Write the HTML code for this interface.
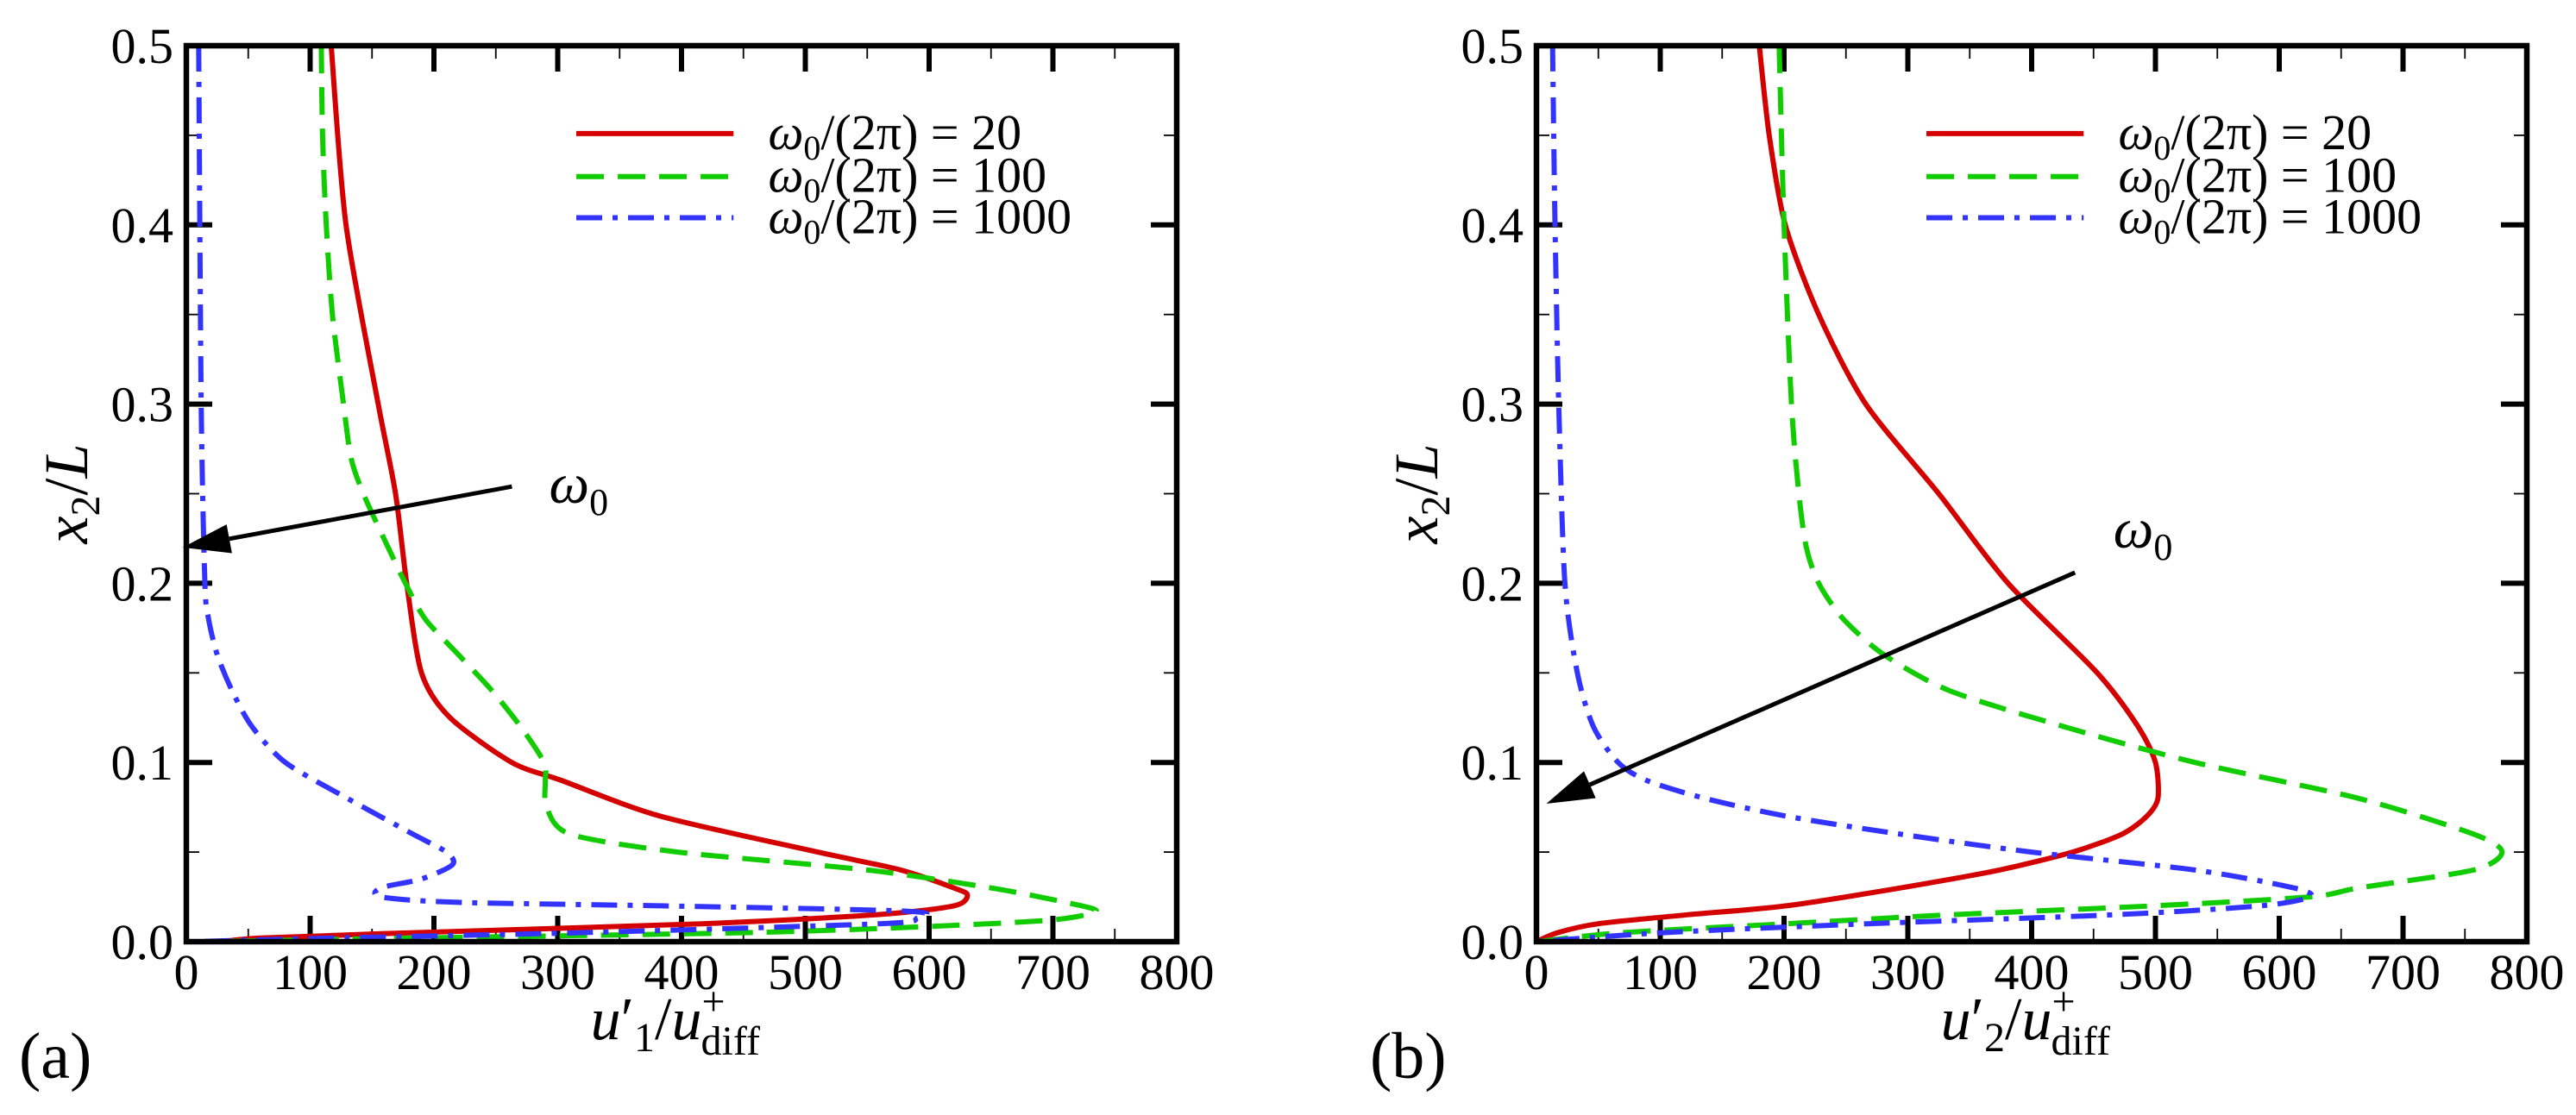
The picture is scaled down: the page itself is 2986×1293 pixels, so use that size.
<!DOCTYPE html>
<html><head><meta charset="utf-8"><style>
html,body{margin:0;padding:0;background:#fff;}
svg{display:block;}
</style></head><body>
<svg id="fig" width="2986" height="1293" viewBox="0 0 2986 1293"></svg>
<script>
// ---- data (x = velocity fluctuation, y = x2/L) ----
const yA_red   = [0.5,0.4,0.3,0.25,0.2,0.15,0.125,0.1,0.09,0.07,0.05,0.04,0.03,0.026,0.02,0.015,0.01,0.005,0.002,0];
const xA_red   = [117,129,155,169,178,190,213,263,303,383,510,577,620,631,620,557,417,183,60,30];
const yA_green = [0.5,0.45,0.4,0.35,0.3,0.27,0.25,0.22,0.2,0.18,0.16,0.14,0.12,0.1,0.09,0.075,0.06,0.05,0.04,0.03,0.022,0.017,0.012,0.008,0.005,0.002,0];
const xA_green = [109,110,113,118,127,133,143,163,177,193,220,247,270,289,290,291,310,397,550,650,710,735,697,583,450,183,17];
const yA_blue  = [0.5,0.3,0.2,0.18,0.16,0.14,0.12,0.1,0.08,0.06,0.05,0.043,0.035,0.03,0.025,0.022,0.02,0.017,0.013,0.01,0.005,0.002,0];
const xA_blue  = [10,12,15,18,25,37,53,80,130,183,210,215,190,157,157,217,383,583,590,560,317,117,5];

const yB_red   = [0.5,0.45,0.4,0.35,0.3,0.25,0.2,0.15,0.12,0.1,0.08,0.07,0.06,0.05,0.04,0.03,0.02,0.015,0.01,0.005,0];
const xB_red   = [180,188,201,228,266,325,381,453,486,500,502,493,473,433,374,294,202,122,50,17,0];
const yB_green = [0.5,0.4,0.3,0.25,0.22,0.2,0.18,0.16,0.14,0.12,0.1,0.08,0.06,0.05,0.04,0.03,0.025,0.02,0.015,0.01,0.005,0];
const xB_green = [196,200,206,212,218,228,248,281,334,426,532,664,757,780,757,664,625,499,334,202,69,0];
const yB_blue  = [0.5,0.4,0.3,0.2,0.15,0.12,0.1,0.09,0.08,0.07,0.06,0.05,0.04,0.03,0.025,0.02,0.015,0.01,0.005,0];
const xB_blue  = [13,15,18,23,33,46,66,89,136,202,294,400,532,612,625,585,466,268,102,0];

const xTicks = [0,100,200,300,400,500,600,700,800];
const yTicks = [0.0,0.1,0.2,0.3,0.4,0.5];
const legendLabels = ["20","100","1000"];

const NS="http://www.w3.org/2000/svg";
const svg=document.getElementById('fig');
const FONT="font-family:'Liberation Serif','DejaVu Serif',serif";
function el(tag,attrs,parent){const e=document.createElementNS(NS,tag);for(const k in attrs)e.setAttribute(k,attrs[k]);if(tag==='text')e.setAttribute('style',FONT);(parent||svg).appendChild(e);return e;}

const T=53,B=1092;
const colors=["#d40000","#11cc00","#3333ff"];
const dashes=["none","32 16","30 12 6 12"];

function smoothPath(P){
  let d='M'+P[0][0].toFixed(1)+','+P[0][1].toFixed(1);
  for(let i=0;i<P.length-1;i++){
    const p0=P[i-1]||P[i],p1=P[i],p2=P[i+1],p3=P[i+2]||P[i+1];
    const k=1/6*0.8;
    const c1=[p1[0]+(p2[0]-p0[0])*k,p1[1]+(p2[1]-p0[1])*k];
    const c2=[p2[0]-(p3[0]-p1[0])*k,p2[1]-(p3[1]-p1[1])*k];
    d+=' C'+c1.map(v=>v.toFixed(1)).join(',')+' '+c2.map(v=>v.toFixed(1)).join(',')+' '+p2[0].toFixed(1)+','+p2[1].toFixed(1);
  }
  return d;
}

function panel(L,name,series,arrow,sub,plabel,plx){
  const R=L+1148;
  const sx=v=>L+(v/800)*(R-L);
  const sy=v=>B-(v/0.5)*(B-T);
  const g=el('g',{});
  
  
  for(let v=0;v<=800;v+=50){
    const major=v%100===0, len=major?30:15, w=major?6:1.8;
    const t1=el('line',{x1:sx(v),x2:sx(v),y1:B,y2:B-len,stroke:'#000','stroke-width':w},g);
    
    el('line',{x1:sx(v),x2:sx(v),y1:T,y2:T+len,stroke:'#000','stroke-width':w},g);
  }
  for(let i=0;i<=10;i++){
    const v=i*0.05, major=i%2===0, len=major?30:15, w=major?6:1.8;
    const t1=el('line',{x1:L,x2:L+len,y1:sy(v),y2:sy(v),stroke:'#000','stroke-width':w},g);
    
    el('line',{x1:R,x2:R-len,y1:sy(v),y2:sy(v),stroke:'#000','stroke-width':w},g);
  }
  xTicks.forEach(v=>{const t=el('text',{x:sx(v),y:B+55,'font-size':58,'text-anchor':'middle'},g);t.textContent=v;
    });
  yTicks.forEach(v=>{const t=el('text',{x:L-15,y:sy(v)+20,'font-size':58,'text-anchor':'end'},g);t.textContent=v.toFixed(1);
    });
  series.forEach((s,i)=>{
    const P=s[0].map((x,j)=>[sx(x),sy(s[1][j])]);
    const p=el('path',{d:smoothPath(P),fill:'none',stroke:colors[i],'stroke-width':6,'stroke-linejoin':'round','stroke-dasharray':dashes[i]},g);
    
    
  });
  [0.451,0.427,0.404].forEach((yv,i)=>{
    const ln=el('line',{x1:sx(315),x2:sx(442),y1:sy(yv),y2:sy(yv),stroke:colors[i],'stroke-width':6,'stroke-dasharray':dashes[i]},g);
    
    const t=el('text',{x:sx(470),y:sy(yv)+18,'font-size':58},g);
    
    t.innerHTML='<tspan font-style="italic">ω</tspan><tspan font-size="40" dy="12">0</tspan><tspan dy="-12">/(2π) = '+legendLabels[i]+'</tspan>';
  });
  const ax1=sx(arrow[0]),ay1=sy(arrow[1]),ax2=sx(arrow[2]),ay2=sy(arrow[3]);
  const ang=Math.atan2(ay2-ay1,ax2-ax1),hl=55,hw=17;
  const bx=ax2-hl*Math.cos(ang),by=ay2-hl*Math.sin(ang);
  const ar=el('g',{},g);
  el('line',{x1:ax1,y1:ay1,x2:bx,y2:by,stroke:'#000','stroke-width':5},ar);
  el('polygon',{points:`${ax2},${ay2} ${bx+hw*Math.sin(ang)},${by-hw*Math.cos(ang)} ${bx-hw*Math.sin(ang)},${by+hw*Math.cos(ang)}`,fill:'#000'},ar);
  const om=el('text',{x:sx(arrow[4]),y:sy(arrow[5]),'font-size':66},g);
  
  om.innerHTML='<tspan font-style="italic">ω</tspan><tspan font-size="44" dy="14">0</tspan>';
  const fr=el('rect',{x:L,y:T,width:R-L,height:B-T,fill:'none',stroke:'#000','stroke-width':6.5},g);
  
  const xl=el('text',{x:sx(395),y:1205,'font-size':70,'text-anchor':'middle'},g);
  
  xl.innerHTML='<tspan font-style="italic">u</tspan><tspan>′</tspan><tspan font-size="48" dy="14">'+sub+'</tspan><tspan dy="-14">/</tspan><tspan font-style="italic">u</tspan><tspan font-size="48" dy="-28">+</tspan><tspan font-size="48" dx="-28" dy="46">diff</tspan>';
  const yl=el('text',{x:0,y:0,'font-size':72,'text-anchor':'middle',transform:`translate(${L-115},${sy(0.25)}) rotate(-90)`},g);
  
  yl.innerHTML='<tspan font-style="italic">x</tspan><tspan font-size="48" dy="14">2</tspan><tspan dy="-14">/</tspan><tspan font-style="italic">L</tspan>';
  const pl=el('text',{x:plx,y:1250,'font-size':76},g);
  
  pl.textContent=plabel;
}
panel(216,'panel-a',[[xA_red,yA_red],[xA_green,yA_green],[xA_blue,yA_blue]],[263,0.254,-3,0.22,293,0.245],'1','(a)',22);
panel(1781,'panel-b',[[xB_red,yB_red],[xB_green,yB_green],[xB_blue,yB_blue]],[435,0.206,8,0.077,466,0.22],'2','(b)',1588);
</script>
</body></html>
